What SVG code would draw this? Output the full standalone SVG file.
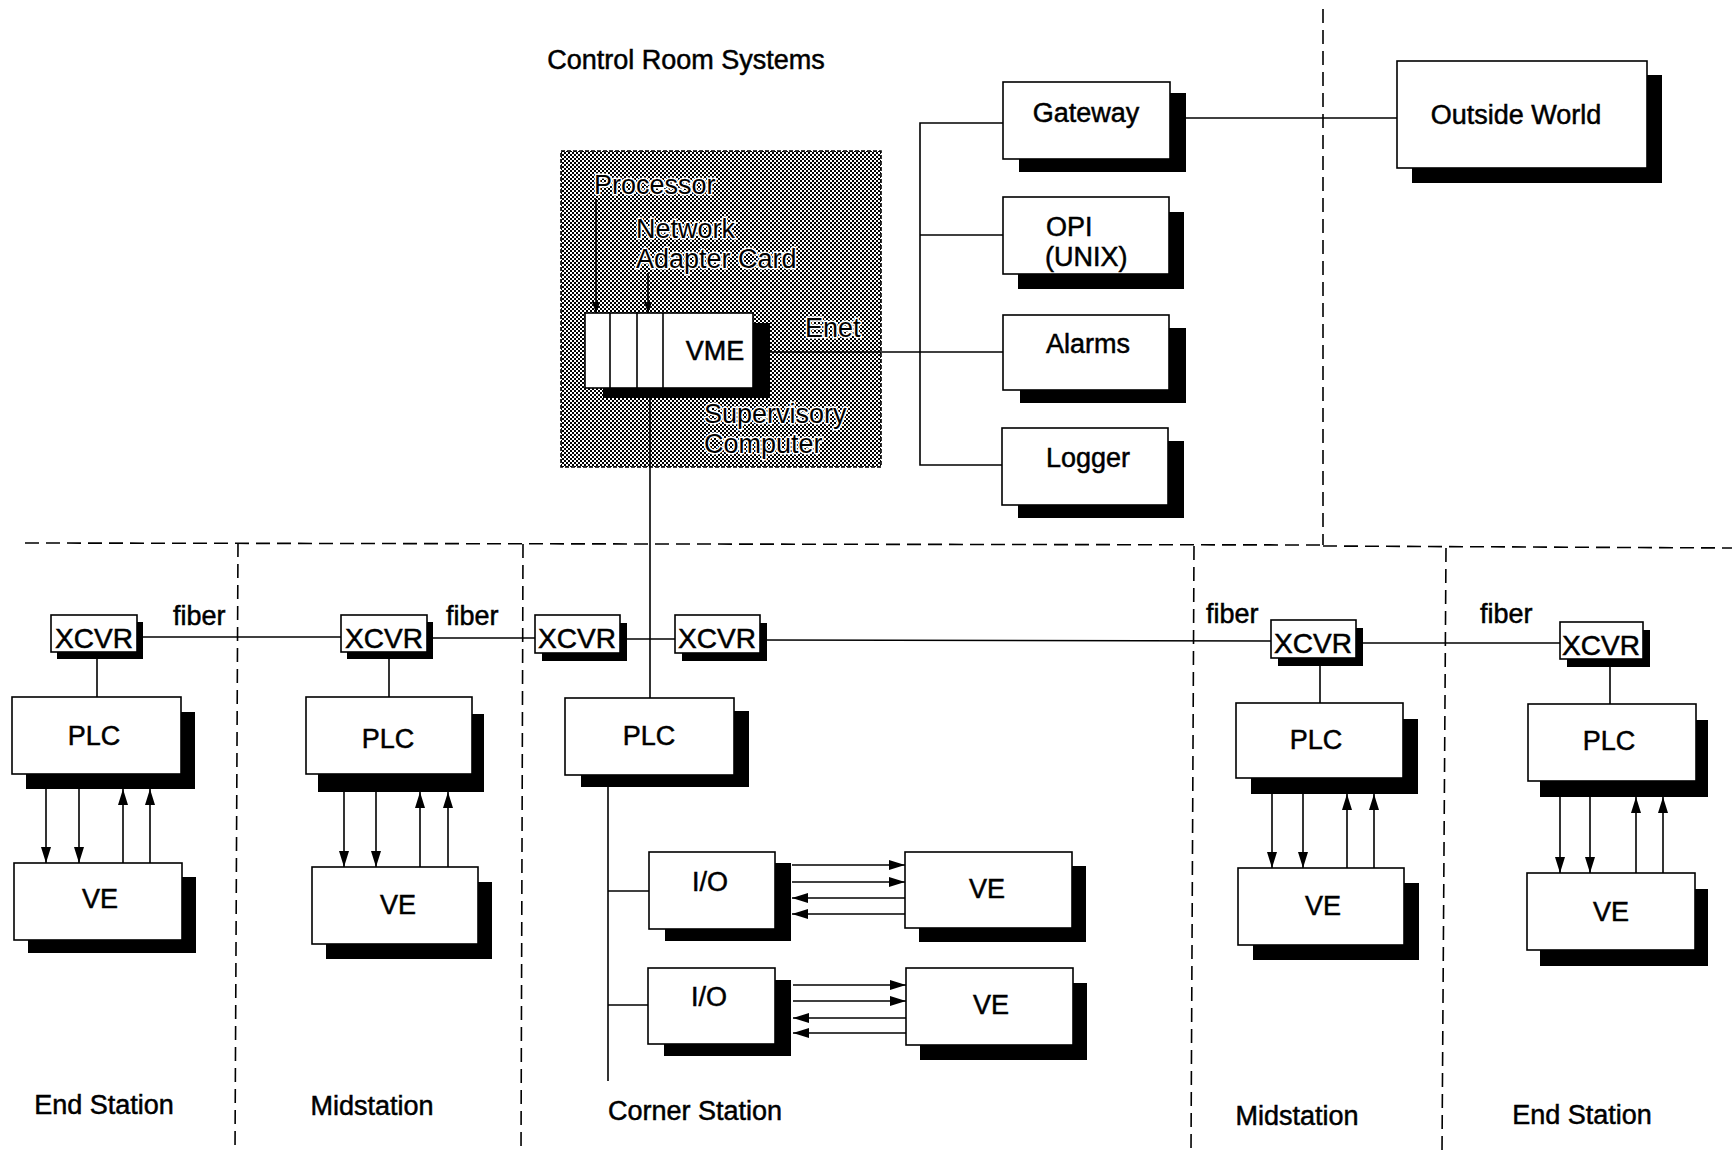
<svg xmlns="http://www.w3.org/2000/svg" width="1732" height="1152" viewBox="0 0 1732 1152">
  <defs>
    <style>
      .box { fill: #fff; stroke: #000; stroke-width: 1.6; }
      .sh { fill: #000; }
      .ln { fill: none; stroke: #000; stroke-width: 1.6; }
      .dash { fill: none; stroke: #000; stroke-width: 1.6; stroke-dasharray: 14 7; }
      text { font-family: "Liberation Sans", Arial, sans-serif; font-size: 27px; fill: #000; stroke: #000; stroke-width: 0.5; }
      .c { text-anchor: middle; }
      .x { font-size: 28px; text-anchor: middle; }
      .halo { stroke: #fff; stroke-width: 3; paint-order: stroke; stroke-linejoin: round; }
    </style>
    <!-- dithered grey used for the supervisory computer area -->
    <pattern id="dither" width="4" height="4" patternUnits="userSpaceOnUse">
      <rect width="4" height="4" fill="#fff"/>
      <rect x="0" y="0" width="2" height="2" fill="#000"/>
      <rect x="2" y="2" width="2" height="2" fill="#000"/>
    </pattern>
    <marker id="ah" viewBox="0 0 16 10" refX="16" refY="5" markerWidth="16" markerHeight="10" markerUnits="userSpaceOnUse" orient="auto">
      <path d="M0,0 L16,5 L0,10 z" fill="#000"/>
    </marker>
    <marker id="ahs" viewBox="0 0 11 8" refX="11" refY="4" markerWidth="11" markerHeight="8" markerUnits="userSpaceOnUse" orient="auto">
      <path d="M0,0 L11,4 L0,8 z" fill="#000"/>
    </marker>
  </defs>

  <rect width="1732" height="1152" fill="#fff"/>

  <!-- area boundaries -->
  <g id="boundaries">
    <line class="dash" x1="1323" y1="9" x2="1323" y2="545"/>
    <line class="dash" x1="25" y1="543" x2="1323" y2="545"/>
    <line class="dash" x1="1323" y1="546" x2="1732" y2="548"/>
    <line class="dash" x1="238" y1="543" x2="235" y2="1152"/>
    <line class="dash" x1="523" y1="544" x2="521" y2="1152"/>
    <line class="dash" x1="1194" y1="546" x2="1191" y2="1152"/>
    <line class="dash" x1="1446" y1="548" x2="1442" y2="1152"/>
  </g>

  <!-- supervisory computer area -->
  <g id="supervisory">
    <rect x="561" y="151" width="320" height="316" fill="url(#dither)" stroke="#000" stroke-width="1.6" stroke-dasharray="4 2"/>
    <text class="halo" x="594" y="194">Processor</text>
    <text class="halo" x="636" y="238">Network</text>
    <text class="halo" x="636" y="268">Adapter Card</text>
    <text class="halo" x="805" y="337">Enet</text>
    <text class="halo" x="704" y="423">Supervisory</text>
    <text class="halo" x="704" y="453">Computer</text>
  </g>

  <!-- connectors -->
  <g id="connectors">
    <!-- control room -->
    <line class="ln" x1="596" y1="199" x2="596" y2="313" marker-end="url(#ahs)"/>
    <line class="ln" x1="648" y1="273" x2="648" y2="313" marker-end="url(#ahs)"/>
    <line class="ln" x1="770" y1="352" x2="1003" y2="352"/>
    <polyline class="ln" points="1003,123 920,123 920,465 1002,465"/>
    <line class="ln" x1="920" y1="235" x2="1003" y2="235"/>
    <line class="ln" x1="1170" y1="118" x2="1397" y2="118"/>
    <line class="ln" x1="650" y1="398" x2="650" y2="698"/>

    <!-- fiber ring -->
    <line class="ln" x1="137" y1="637" x2="341" y2="637"/>
    <line class="ln" x1="427" y1="638" x2="535" y2="638"/>
    <line class="ln" x1="620" y1="639" x2="675" y2="639"/>
    <line class="ln" x1="760" y1="640" x2="1271" y2="641"/>
    <line class="ln" x1="1356" y1="643" x2="1560" y2="643"/>

    <!-- transceiver to PLC -->
    <line class="ln" x1="97" y1="652" x2="97" y2="697"/>
    <line class="ln" x1="389" y1="652" x2="389" y2="697"/>
    <line class="ln" x1="1320" y1="658" x2="1320" y2="703"/>
    <line class="ln" x1="1610" y1="659" x2="1610" y2="704"/>

    <!-- corner station I/O bus -->
    <line class="ln" x1="608" y1="787" x2="608" y2="1081"/>
    <line class="ln" x1="608" y1="891" x2="649" y2="891"/>
    <line class="ln" x1="608" y1="1005" x2="648" y2="1005"/>

    <!-- PLC / VE signals -->
    <line class="ln" x1="46" y1="789" x2="46" y2="863" marker-end="url(#ah)"/>
    <line class="ln" x1="79" y1="789" x2="79" y2="863" marker-end="url(#ah)"/>
    <line class="ln" x1="123" y1="863" x2="123" y2="789" marker-end="url(#ah)"/>
    <line class="ln" x1="150" y1="863" x2="150" y2="789" marker-end="url(#ah)"/>

    <line class="ln" x1="344" y1="792" x2="344" y2="867" marker-end="url(#ah)"/>
    <line class="ln" x1="376" y1="792" x2="376" y2="867" marker-end="url(#ah)"/>
    <line class="ln" x1="420" y1="867" x2="420" y2="792" marker-end="url(#ah)"/>
    <line class="ln" x1="448" y1="867" x2="448" y2="792" marker-end="url(#ah)"/>

    <line class="ln" x1="1272" y1="794" x2="1272" y2="868" marker-end="url(#ah)"/>
    <line class="ln" x1="1303" y1="794" x2="1303" y2="868" marker-end="url(#ah)"/>
    <line class="ln" x1="1347" y1="868" x2="1347" y2="794" marker-end="url(#ah)"/>
    <line class="ln" x1="1374" y1="868" x2="1374" y2="794" marker-end="url(#ah)"/>

    <line class="ln" x1="1560" y1="797" x2="1560" y2="873" marker-end="url(#ah)"/>
    <line class="ln" x1="1590" y1="797" x2="1590" y2="873" marker-end="url(#ah)"/>
    <line class="ln" x1="1636" y1="873" x2="1636" y2="797" marker-end="url(#ah)"/>
    <line class="ln" x1="1663" y1="873" x2="1663" y2="797" marker-end="url(#ah)"/>

    <!-- I/O / VE signals -->
    <line class="ln" x1="792" y1="865" x2="905" y2="865" marker-end="url(#ah)"/>
    <line class="ln" x1="792" y1="882" x2="905" y2="882" marker-end="url(#ah)"/>
    <line class="ln" x1="905" y1="898" x2="792" y2="898" marker-end="url(#ah)"/>
    <line class="ln" x1="905" y1="914" x2="792" y2="914" marker-end="url(#ah)"/>

    <line class="ln" x1="793" y1="985" x2="906" y2="985" marker-end="url(#ah)"/>
    <line class="ln" x1="793" y1="1001" x2="906" y2="1001" marker-end="url(#ah)"/>
    <line class="ln" x1="906" y1="1018" x2="793" y2="1018" marker-end="url(#ah)"/>
    <line class="ln" x1="906" y1="1033" x2="793" y2="1033" marker-end="url(#ah)"/>
  </g>

  <!-- control room nodes -->
  <g id="vme">
    <rect class="sh" x="603" y="323" width="167" height="75"/>
    <rect class="box" x="585" y="313" width="168" height="75"/>
    <line class="ln" x1="610" y1="313" x2="610" y2="388"/>
    <line class="ln" x1="637" y1="313" x2="637" y2="388"/>
    <line class="ln" x1="663" y1="313" x2="663" y2="388"/>
    <text class="c" x="715" y="360">VME</text>
  </g>
  <g id="gateway">
    <rect class="sh" x="1019" y="93" width="167" height="79"/>
    <rect class="box" x="1003" y="82" width="167" height="77"/>
    <text class="c" x="1086" y="122">Gateway</text>
  </g>
  <g id="opi">
    <rect class="sh" x="1018" y="212" width="166" height="77"/>
    <rect class="box" x="1003" y="197" width="166" height="77"/>
    <text x="1046" y="236">OPI</text>
    <text x="1045" y="266">(UNIX)</text>
  </g>
  <g id="alarms">
    <rect class="sh" x="1020" y="328" width="166" height="75"/>
    <rect class="box" x="1003" y="315" width="166" height="75"/>
    <text class="c" x="1088" y="353">Alarms</text>
  </g>
  <g id="logger">
    <rect class="sh" x="1018" y="441" width="166" height="77"/>
    <rect class="box" x="1002" y="428" width="166" height="77"/>
    <text class="c" x="1088" y="467">Logger</text>
  </g>
  <g id="outside-world">
    <rect class="sh" x="1412" y="75" width="250" height="108"/>
    <rect class="box" x="1397" y="61" width="250" height="107"/>
    <text class="c" x="1516" y="124">Outside World</text>
  </g>

  <!-- left end station -->
  <g id="end-l-xcvr">
    <rect class="sh" x="57" y="622" width="86" height="37"/>
    <rect class="box" x="51" y="615" width="86" height="37"/>
    <text class="x" x="94" y="648">XCVR</text>
  </g>
  <g id="end-l-plc">
    <rect class="sh" x="26" y="712" width="169" height="77"/>
    <rect class="box" x="12" y="697" width="169" height="77"/>
    <text class="c" x="94" y="745">PLC</text>
  </g>
  <g id="end-l-ve">
    <rect class="sh" x="28" y="877" width="168" height="76"/>
    <rect class="box" x="14" y="863" width="168" height="77"/>
    <text class="c" x="100" y="908">VE</text>
  </g>

  <!-- left midstation -->
  <g id="mid-l-xcvr">
    <rect class="sh" x="347" y="622" width="86" height="37"/>
    <rect class="box" x="341" y="615" width="86" height="37"/>
    <text class="x" x="384" y="648">XCVR</text>
  </g>
  <g id="mid-l-plc">
    <rect class="sh" x="318" y="714" width="166" height="78"/>
    <rect class="box" x="306" y="697" width="166" height="77"/>
    <text class="c" x="388" y="748">PLC</text>
  </g>
  <g id="mid-l-ve">
    <rect class="sh" x="326" y="882" width="166" height="77"/>
    <rect class="box" x="312" y="867" width="166" height="77"/>
    <text class="c" x="398" y="914">VE</text>
  </g>

  <!-- corner station -->
  <g id="corner-xcvr-a">
    <rect class="sh" x="542" y="623" width="85" height="38"/>
    <rect class="box" x="535" y="615" width="85" height="38"/>
    <text class="x" x="577" y="648">XCVR</text>
  </g>
  <g id="corner-xcvr-b">
    <rect class="sh" x="682" y="623" width="85" height="38"/>
    <rect class="box" x="675" y="615" width="85" height="38"/>
    <text class="x" x="717" y="648">XCVR</text>
  </g>
  <g id="corner-plc">
    <rect class="sh" x="581" y="711" width="168" height="76"/>
    <rect class="box" x="565" y="698" width="169" height="77"/>
    <text class="c" x="649" y="745">PLC</text>
  </g>
  <g id="corner-io-1">
    <rect class="sh" x="665" y="863" width="126" height="78"/>
    <rect class="box" x="649" y="852" width="126" height="77"/>
    <text class="c" x="710" y="891">I/O</text>
  </g>
  <g id="corner-ve-1">
    <rect class="sh" x="919" y="866" width="167" height="76"/>
    <rect class="box" x="905" y="852" width="167" height="76"/>
    <text class="c" x="987" y="898">VE</text>
  </g>
  <g id="corner-io-2">
    <rect class="sh" x="664" y="980" width="127" height="76"/>
    <rect class="box" x="648" y="968" width="127" height="76"/>
    <text class="c" x="709" y="1006">I/O</text>
  </g>
  <g id="corner-ve-2">
    <rect class="sh" x="920" y="983" width="167" height="77"/>
    <rect class="box" x="906" y="968" width="167" height="77"/>
    <text class="c" x="991" y="1014">VE</text>
  </g>

  <!-- right midstation -->
  <g id="mid-r-xcvr">
    <rect class="sh" x="1278" y="628" width="85" height="38"/>
    <rect class="box" x="1271" y="620" width="85" height="38"/>
    <text class="x" x="1313" y="653">XCVR</text>
  </g>
  <g id="mid-r-plc">
    <rect class="sh" x="1251" y="719" width="167" height="75"/>
    <rect class="box" x="1236" y="703" width="167" height="75"/>
    <text class="c" x="1316" y="749">PLC</text>
  </g>
  <g id="mid-r-ve">
    <rect class="sh" x="1253" y="883" width="166" height="77"/>
    <rect class="box" x="1238" y="868" width="166" height="77"/>
    <text class="c" x="1323" y="915">VE</text>
  </g>

  <!-- right end station -->
  <g id="end-r-xcvr">
    <rect class="sh" x="1567" y="630" width="83" height="37"/>
    <rect class="box" x="1560" y="622" width="83" height="37"/>
    <text class="x" x="1601" y="655">XCVR</text>
  </g>
  <g id="end-r-plc">
    <rect class="sh" x="1540" y="720" width="168" height="77"/>
    <rect class="box" x="1528" y="704" width="168" height="77"/>
    <text class="c" x="1609" y="750">PLC</text>
  </g>
  <g id="end-r-ve">
    <rect class="sh" x="1540" y="889" width="168" height="77"/>
    <rect class="box" x="1527" y="873" width="168" height="77"/>
    <text class="c" x="1611" y="921">VE</text>
  </g>

  <!-- labels -->
  <g id="labels">
    <text class="c" x="686" y="69">Control Room Systems</text>
    <text x="173" y="625">fiber</text>
    <text x="446" y="625">fiber</text>
    <text x="1206" y="623">fiber</text>
    <text x="1480" y="623">fiber</text>
    <text class="c" x="104" y="1114">End Station</text>
    <text class="c" x="372" y="1115">Midstation</text>
    <text class="c" x="695" y="1120">Corner Station</text>
    <text class="c" x="1297" y="1125">Midstation</text>
    <text class="c" x="1582" y="1124">End Station</text>
  </g>
</svg>
